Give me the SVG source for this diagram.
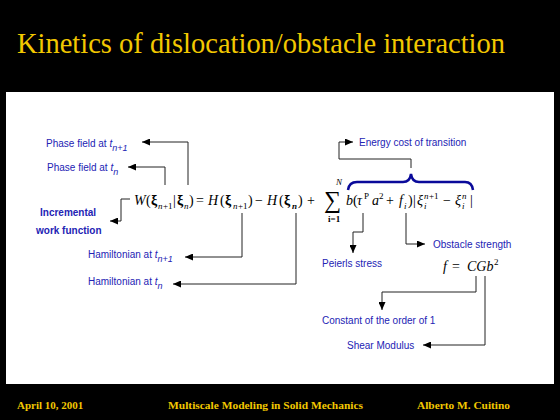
<svg xmlns="http://www.w3.org/2000/svg" width="560" height="420" viewBox="0 0 560 420">
<defs>
<marker id="ah" markerUnits="userSpaceOnUse" markerWidth="8" markerHeight="7" refX="8" refY="3.5" orient="auto">
<path d="M0,0 L8,3.5 L0,7 z" fill="#000"/>
</marker>
<style>
.title{font-family:"Liberation Serif","Times New Roman",serif;fill:#F2C800}
.foot{font-family:"Liberation Serif","Times New Roman",serif;font-weight:bold;font-size:11px;fill:#F2C800}
.lbl{font-family:"Liberation Sans",Arial,sans-serif;font-size:10px;fill:#2323B4}
.b{font-weight:bold}
.it{font-style:italic}
.m{font-family:"Liberation Serif","Times New Roman",serif;font-size:14px;fill:#000}
.s{font-size:9px}
.c{fill:none;stroke:#222;stroke-width:1;marker-end:url(#ah)}
</style>
</defs>
<rect x="0" y="0" width="560" height="420" fill="#000"/>
<text class="title" x="17" y="53" font-size="28.5" textLength="488" lengthAdjust="spacingAndGlyphs">Kinetics of dislocation/obstacle interaction</text>
<rect x="6" y="92" width="548" height="292" fill="#fff"/>

<g id="formula" class="m">
<text x="134" y="205" class="it">W</text>
<text x="146" y="205">(</text>
<text x="151" y="205" class="b">ξ</text><text x="158" y="209" class="s it">n</text><text x="163" y="209" class="s">+1</text>
<text x="173" y="205">|</text>
<text x="177" y="205" class="b">ξ</text><text x="184" y="209" class="s it">n</text>
<text x="189" y="205">)</text>
<text x="196" y="205">=</text>
<text x="208" y="205" class="it">H</text>
<text x="220" y="205">(</text>
<text x="225" y="205" class="b">ξ</text><text x="233" y="209" class="s it">n</text><text x="238" y="209" class="s">+1</text>
<text x="248" y="205">)</text>
<text x="255" y="205">−</text>
<text x="267" y="205" class="it">H</text>
<text x="279" y="205">(</text>
<text x="284" y="205" class="b">ξ</text><text x="292" y="209" class="s it b">n</text>
<text x="298" y="205">)</text>
<text x="307" y="205">+</text>
<text x="324" y="208" font-size="24">∑</text>
<text x="336" y="185" class="s it">N</text>
<text x="328" y="222" class="s b">i=1</text>
<text x="346" y="205" class="it">b</text>
<text x="353" y="205">(</text>
<text x="357" y="205" class="it">τ</text><text x="364" y="199" class="s">P</text>
<text x="372" y="205" class="it">a</text><text x="379" y="199" class="s">2</text>
<text x="386" y="205">+</text>
<text x="399" y="205" class="it">f</text><text x="404" y="209" class="s it">i</text>
<text x="408" y="205">)</text>
<text x="413" y="205">|</text>
<text x="417" y="205" class="it">ξ</text><text x="424" y="209" class="s it">i</text><text x="424" y="199" class="s it">n</text><text x="429" y="199" class="s">+1</text>
<text x="443" y="205">−</text>
<text x="455" y="205" class="it">ξ</text><text x="462" y="209" class="s it">i</text><text x="462" y="199" class="s it">n</text>
<text x="470" y="205">|</text>
</g>

<g id="brace">
<path d="M348,190 Q349,182 357,182 L403,182 Q410,182 411,174 Q412,182 419,182 L465,182 Q472,182 473,190" fill="none" stroke="#0A0A9A" stroke-width="2.5"/>
</g>

<g id="formula2">
<text class="m it" x="443" y="271">f</text>
<text class="m" x="452" y="271">=</text>
<text class="m it" x="467" y="271">CGb</text>
<text class="m s" x="494" y="265">2</text>
</g>

<g id="phase-n1"><text class="lbl" x="46" y="147">Phase field at <tspan class="it">t</tspan><tspan class="it" font-size="9" dy="4">n+1</tspan></text></g>
<g id="phase-n"><text class="lbl" x="47" y="171">Phase field at <tspan class="it">t</tspan><tspan class="it" font-size="9" dy="4">n</tspan></text></g>
<g id="incremental"><text class="lbl b" x="40" y="216">Incremental</text><text class="lbl b" x="36" y="234">work function</text></g>
<g id="ham-n1"><text class="lbl" x="88" y="258">Hamiltonian at <tspan class="it">t</tspan><tspan class="it" font-size="9" dy="4">n+1</tspan></text></g>
<g id="ham-n"><text class="lbl" x="88" y="285">Hamiltonian at <tspan class="it">t</tspan><tspan class="it" font-size="9" dy="4">n</tspan></text></g>
<g id="energy"><text class="lbl" x="359" y="146">Energy cost of transition</text></g>
<g id="peierls"><text class="lbl" x="322" y="267">Peierls stress</text></g>
<g id="obstacle"><text class="lbl" x="433" y="248">Obstacle strength</text></g>
<g id="constant"><text class="lbl" x="322" y="324">Constant of the order of 1</text></g>
<g id="shear"><text class="lbl" x="347" y="349">Shear Modulus</text></g>

<g id="connectors">
<path class="c" d="M188,185 V142 H142"/>
<path class="c" d="M165,185 V167 H128"/>
<path class="c" d="M130,199 H121 V221 H110"/>
<path class="c" d="M242,213 V257 H185"/>
<path class="c" d="M296,213 V284 H173"/>
<path class="c" d="M411,168 V159 H339 V142 H353"/>
<path class="c" d="M363,213 V232 H353 V253"/>
<path class="c" d="M406,213 V244 H425"/>
<path class="c" d="M476,276 V292 H382 V310"/>
<path class="c" d="M485,276 V345 H423"/>
</g>

<g id="footer">
<text class="foot" x="17" y="409">April 10, 2001</text>
<text class="foot" x="168" y="409" textLength="195" lengthAdjust="spacingAndGlyphs">Multiscale Modeling in Solid Mechanics</text>
<text class="foot" x="417" y="409" textLength="93" lengthAdjust="spacingAndGlyphs">Alberto M. Cuitino</text>
</g>
</svg>
